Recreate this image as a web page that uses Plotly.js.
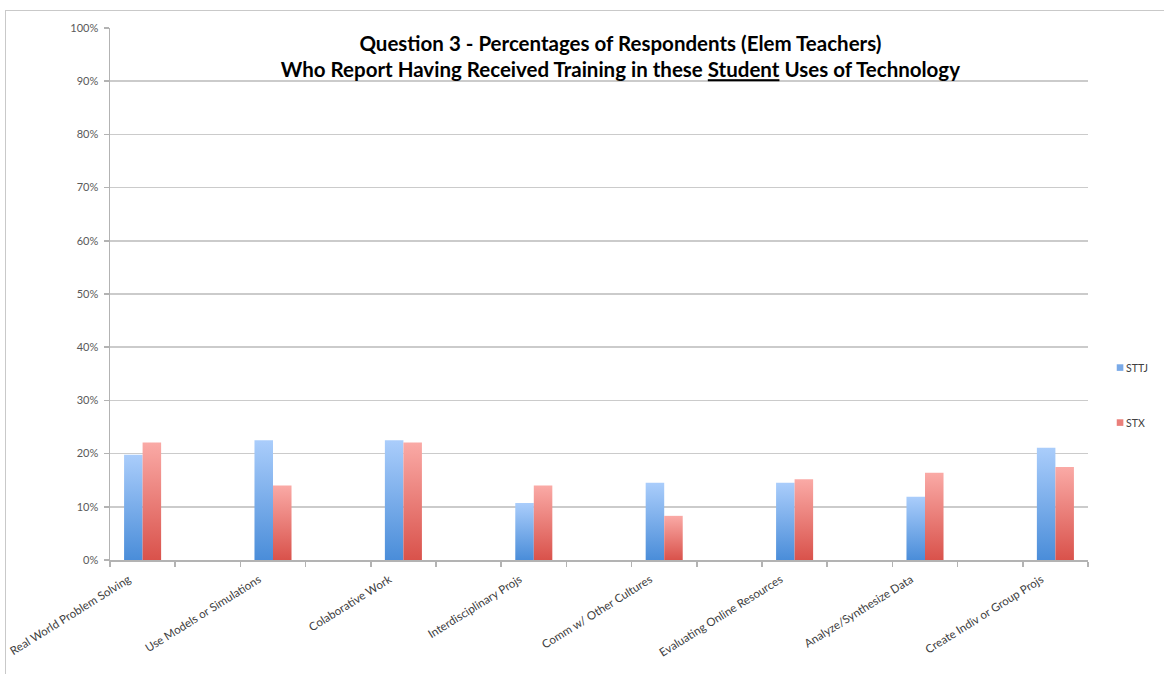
<!DOCTYPE html>
<html>
<head>
<meta charset="utf-8">
<script src="https://cdn.plot.ly/plotly-3.0.1.min.js"></script>
<style>
  html, body { margin: 0; padding: 0; background: #fff; }
  #wrap { position: relative; width: 1164px; height: 674px; overflow: hidden; }
  #chart { position: absolute; left: 0; top: 0; width: 1164px; height: 674px; }
  #frame { position: absolute; left: 5px; top: 10px; width: 1200px; height: 700px;
           border-left: 1.5px solid #c9c9c9; border-top: 1.5px solid #c9c9c9; pointer-events: none; }
</style>
</head>
<body>
<div id="wrap">
  <div id="chart"></div>
  <div id="frame"></div>
</div>
<script>
// Survey items (one group of bars each)
const categories = [
  "Real World Problem Solving",
  "Use Models or Simulations",
  "Colaborative Work",
  "Interdisciplinary Projs",
  "Comm w/ Other Cultures",
  "Evaluating Online Resources",
  "Analyze/Synthesize Data",
  "Create Indiv or Group Projs"
];
// Percent of respondents, by district
const sttj = [19.8, 22.5, 22.5, 10.7, 14.5, 14.5, 11.9, 21.1];
const stx  = [22.1, 14.0, 22.1, 14.0, 8.3, 15.2, 16.4, 17.5];
const seriesNames = ["STTJ", "STX"];
const yTicks = [0, 10, 20, 30, 40, 50, 60, 70, 80, 90, 100];

// Each item sits in every other slot, leaving an empty slot between groups
const slot = categories.map((_, i) => i * 2);
const slotEdges = [];
for (let i = 0; i <= categories.length * 2 - 1; i++) slotEdges.push(i - 0.5);

const font = "Lato, 'Open Sans', sans-serif";
const axisGray = "#b3b3b3";

const traces = [
  { type: "bar", name: seriesNames[0], x: slot, y: sttj, legendgroup: "a",
    marker: { color: "#7aaae8", line: { width: 0 } }, hoverinfo: "y+name" },
  { type: "bar", name: seriesNames[1], x: slot, y: stx, legendgroup: "b",
    marker: { color: "#ea7f7a", line: { width: 0 } }, hoverinfo: "y+name" }
];

const layout = {
  width: 1164, height: 674,
  margin: { l: 110, r: 76, t: 28, b: 114, autoexpand: false },
  paper_bgcolor: "rgba(0,0,0,0)", plot_bgcolor: "rgba(0,0,0,0)",
  barmode: "group", bargap: 0.716, bargroupgap: 0,
  title: {
    text: "<b>Question 3 - Percentages of Respondents (Elem Teachers)<br>Who Report Having Received Training in these <u>Student</u> Uses of Technology</b>",
    font: { family: font, size: 20.5, color: "#000" },
    x: 0.533, xref: "container", xanchor: "center",
    y: 0.925, yref: "container", yanchor: "middle"
  },
  xaxis: {
    range: [-0.5, categories.length * 2 - 1.5],
    tickmode: "array", tickvals: slot, ticktext: categories,
    ticks: "", tickangle: -32,
    ticklabelshift: -14, ticklabelstandoff: 7,
    tickfont: { family: font, size: 11.5, color: "#404040" },
    showline: true, linecolor: axisGray, linewidth: 1.5,
    showgrid: false, zeroline: false,
    minor: { tickmode: "array", tickvals: slotEdges, ticks: "outside", ticklen: 5,
             tickcolor: axisGray, tickwidth: 1.5, showgrid: false }
  },
  yaxis: {
    range: [0, 100], tickmode: "array", tickvals: yTicks,
    ticktext: yTicks.map(v => v + "%"),
    ticks: "outside", ticklen: 5, tickcolor: axisGray, tickwidth: 1.5,
    ticklabelstandoff: 3,
    tickfont: { family: font, size: 11, color: "#595959" },
    showline: true, linecolor: axisGray, linewidth: 1.5,
    showgrid: true, gridcolor: "#cbcbcb", gridwidth: 1.6, zeroline: false
  },
  showlegend: true,
  legend: {
    x: 0.998, xanchor: "left", y: 0.31, yanchor: "middle",
    font: { family: font, size: 10.5, color: "#404040" },
    tracegroupgap: 36, itemwidth: 30, bgcolor: "rgba(0,0,0,0)"
  }
};

// Vertical light-to-dark shading for the bar fills
const gradients = [
  { id: "gradSttj", top: "#aacdfb", bottom: "#4a8dd9" },
  { id: "gradStx",  top: "#faaaa6", bottom: "#d9524b" }
];

function applyShading(gd) {
  const svg = gd.querySelector("svg.main-svg");
  if (!svg) return;
  let defs = svg.querySelector("defs");
  const ns = "http://www.w3.org/2000/svg";
  gradients.forEach(g => {
    if (svg.querySelector("#" + g.id)) return;
    const lg = document.createElementNS(ns, "linearGradient");
    lg.setAttribute("id", g.id);
    lg.setAttribute("x1", "0"); lg.setAttribute("y1", "0");
    lg.setAttribute("x2", "0"); lg.setAttribute("y2", "1");
    [["0", g.top], ["1", g.bottom]].forEach(([o, c]) => {
      const st = document.createElementNS(ns, "stop");
      st.setAttribute("offset", o); st.setAttribute("stop-color", c);
      lg.appendChild(st);
    });
    defs.appendChild(lg);
  });
  const barTraces = gd.querySelectorAll(".barlayer .trace.bars");
  barTraces.forEach((t, i) => {
    t.querySelectorAll("path").forEach(p => { p.style.fill = "url(#" + gradients[i].id + ")"; });
  });
  // Smaller legend swatches, placed close to their labels
  gd.querySelectorAll(".legend .legendpoints path").forEach(p => {
    p.setAttribute("transform", "translate(34,0) scale(0.55)");
  });
}

const gd = document.getElementById("chart");
Plotly.newPlot(gd, traces, layout, { displayModeBar: false, staticPlot: true }).then(() => {
  applyShading(gd);
  gd.on("plotly_afterplot", () => applyShading(gd));
});
</script>
</body>
</html>
